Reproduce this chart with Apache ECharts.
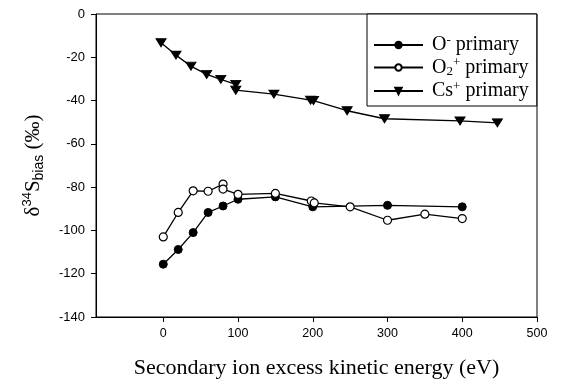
<!DOCTYPE html>
<html>
<head>
<meta charset="utf-8">
<script src="https://cdn.jsdelivr.net/npm/echarts@6/dist/echarts.min.js"></script>
<style>
  html, body { margin: 0; padding: 0; background: #fff; }
  #chart { width: 562px; height: 383px; }
</style>
</head>
<body>
<div id="chart"></div>
<script>
// Secondary ion excess kinetic energy (eV) and delta-34S bias (per mil)
const oMinusX   = [0, 20, 40, 60, 80, 100, 150, 200, 300, 400];
const oMinusY   = [-115.6, -108.8, -101.0, -91.7, -88.7, -85.6, -84.5, -89.1, -88.4, -89.1];

const o2PlusX   = [0, 20, 40, 60, 80, 80, 100, 150, 198, 202, 250, 300, 350, 400];
const o2PlusY   = [-103.0, -91.7, -81.7, -81.9, -78.6, -80.9, -83.3, -82.9, -86.4, -87.3, -89.1, -95.3, -92.5, -94.5];

const csPlusX   = [-3, 17, 37, 58, 77, 97, 97, 148, 197, 201, 246, 296, 397, 447];
const csPlusY   = [-13.3, -19.0, -24.1, -27.9, -30.2, -32.5, -35.2, -37.0, -39.8, -40.0, -44.7, -48.4, -49.4, -50.3];

const xTicks = [0, 100, 200, 300, 400, 500];

const pairs = (xs, ys) => xs.map((x, i) => [x, ys[i]]);

const serif = '"Liberation Serif", "DejaVu Serif", serif';
const sans = '"Liberation Sans", Arial, sans-serif';

const chart = echarts.init(document.getElementById('chart'), null, { renderer: 'canvas' });

const legendRich = {
  base: { fontFamily: serif, fontSize: 20, lineHeight: 22, color: '#000' },
  sup: { fontFamily: serif, fontSize: 13, lineHeight: 12, verticalAlign: 'top', color: '#000' },
  sub: { fontFamily: serif, fontSize: 13, lineHeight: 12, verticalAlign: 'bottom', color: '#000' }
};

chart.setOption({
  animation: false,
  backgroundColor: '#fff',
  grid: {
    left: 96, right: 25, top: 14, bottom: 66,
    outerBoundsMode: 'none',
    containLabel: false,
    show: true, borderColor: '#000', borderWidth: 1, backgroundColor: 'transparent'
  },
  legend: {
    left: 367, top: 14,
    orient: 'vertical',
    backgroundColor: '#fff',
    borderColor: '#000', borderWidth: 1,
    padding: [20, 8, 5, 6],
    itemGap: 1.5,
    itemWidth: 49, itemHeight: 8,
    data: ['O- primary', 'O2+ primary', 'Cs+ primary'],
    formatter: function (name) {
      if (name === 'O- primary') return '{base|O}{sup|-}{base| primary}';
      if (name === 'O2+ primary') return '{base|O}{sub|2}{sup|+}{base| primary}';
      return '{base|Cs}{sup|+}{base| primary}';
    },
    textStyle: { rich: legendRich, padding: [0, 0, 0, 4] }
  },
  xAxis: {
    type: 'value', min: -90, max: 500,
    name: 'Secondary ion excess kinetic energy (eV)',
    nameLocation: 'middle', nameGap: 40,
    nameTextStyle: { fontFamily: serif, fontSize: 22, color: '#000' },
    axisLine: { show: true, onZero: false, lineStyle: { color: '#000', width: 1 } },
    axisTick: { show: true, inside: false, length: 5, customValues: xTicks, lineStyle: { color: '#000' } },
    axisLabel: { customValues: xTicks, fontFamily: sans, fontSize: 12.5, color: '#000', margin: 10 },
    splitLine: { show: false }
  },
  yAxis: {
    type: 'value', min: -140, max: 0, interval: 20,
    name: '{g|δ}{sup|34}{g|S}{sub|bias}{g| (‰)}',
    nameLocation: 'middle', nameGap: 50, nameRotate: 90,
    nameTextStyle: {
      rich: {
        g: { fontFamily: serif, fontSize: 21, color: '#000' },
        sup: { fontFamily: sans, fontSize: 13, color: '#000', padding: [0, 0, 12, 0] },
        sub: { fontFamily: sans, fontSize: 14, color: '#000', padding: [12, 0, 0, 0] }
      }
    },
    axisLine: { show: true, onZero: false, lineStyle: { color: '#000', width: 1 } },
    axisTick: { show: true, inside: false, length: 5, lineStyle: { color: '#000' } },
    axisLabel: { fontFamily: sans, fontSize: 13, color: '#000', margin: 11 },
    splitLine: { show: false }
  },
  series: [
    {
      name: 'O- primary', type: 'line',
      data: pairs(oMinusX, oMinusY),
      symbol: 'circle', symbolSize: 8,
      lineStyle: { color: '#000', width: 1.3 },
      itemStyle: { color: '#000', borderColor: '#000', borderWidth: 1 },
      z: 3
    },
    {
      name: 'O2+ primary', type: 'line',
      data: pairs(o2PlusX, o2PlusY),
      symbol: 'circle', symbolSize: 8,
      lineStyle: { color: '#000', width: 1.3 },
      itemStyle: { color: '#fff', borderColor: '#000', borderWidth: 1.2 },
      z: 4
    },
    {
      name: 'Cs+ primary', type: 'line',
      data: pairs(csPlusX, csPlusY),
      symbol: 'triangle', symbolRotate: 180, symbolSize: [10, 8],
      lineStyle: { color: '#000', width: 1.3 },
      itemStyle: { color: '#000', borderColor: '#000', borderWidth: 1 },
      z: 3
    }
  ]
});
</script>
</body>
</html>
